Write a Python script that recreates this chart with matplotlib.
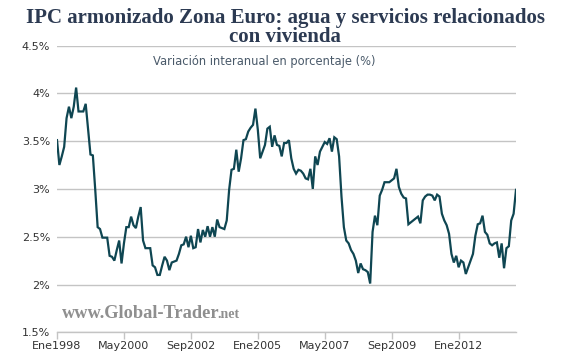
import matplotlib
matplotlib.use("Agg")
import matplotlib.pyplot as plt
from matplotlib.ticker import FuncFormatter

# ---- data (monthly, Ene 1998 .. Ene 2014) ----
start_year = 1998
values = [
    3.51, 3.25, 3.34, 3.44, 3.74, 3.86, 3.74, 3.86, 4.06, 3.81, 3.81, 3.81,
    3.89, 3.62, 3.36, 3.35, 2.99, 2.60, 2.58, 2.49, 2.49, 2.49, 2.30, 2.29,
    2.25, 2.36, 2.46, 2.22, 2.43, 2.60, 2.60, 2.71, 2.62, 2.59, 2.71, 2.81,
    2.46, 2.38, 2.38, 2.38, 2.20, 2.18, 2.10, 2.10, 2.20, 2.29, 2.25, 2.15,
    2.23, 2.24, 2.25, 2.32, 2.41, 2.42, 2.50, 2.39, 2.51, 2.38, 2.39, 2.58,
    2.44, 2.57, 2.50, 2.61, 2.50, 2.60, 2.50, 2.68, 2.60, 2.59, 2.58, 2.67,
    2.99, 3.20, 3.21, 3.41, 3.18, 3.32, 3.51, 3.52, 3.60, 3.64, 3.67, 3.84,
    3.62, 3.32, 3.39, 3.46, 3.63, 3.65, 3.44, 3.56, 3.46, 3.45, 3.34, 3.48,
    3.48, 3.51, 3.32, 3.21, 3.16, 3.20, 3.19, 3.16, 3.11, 3.10, 3.21, 3.00,
    3.34, 3.25, 3.39, 3.44, 3.49, 3.47, 3.53, 3.39, 3.54, 3.52, 3.34, 2.92,
    2.60, 2.46, 2.43, 2.36, 2.32, 2.25, 2.12, 2.22, 2.16, 2.15, 2.13, 2.01,
    2.55, 2.72, 2.62, 2.93, 2.99, 3.07, 3.07, 3.07, 3.09, 3.11, 3.21, 3.02,
    2.95, 2.91, 2.90, 2.63, 2.65, 2.67, 2.69, 2.71, 2.64, 2.88, 2.92, 2.94,
    2.94, 2.93, 2.88, 2.94, 2.92, 2.74, 2.67, 2.62, 2.53, 2.32, 2.23, 2.30,
    2.18, 2.25, 2.23, 2.11, 2.18, 2.25, 2.32, 2.51, 2.63, 2.64, 2.72, 2.55,
    2.52, 2.43, 2.41, 2.43, 2.44, 2.28, 2.43, 2.17, 2.38, 2.40, 2.67, 2.74,
    2.99,
]
tick_labels = ["Ene1998", "May2000", "Sep2002", "Ene2005", "May2007", "Sep2009", "Ene2012"]
y_ticks = [1.5, 2.0, 2.5, 3.0, 3.5, 4.0, 4.5]

title_lines = ["IPC armonizado Zona Euro: agua y servicios relacionados", "con vivienda"]
subtitle = "Variación interanual en porcentaje (%)"

meses = {"Ene": 0, "Feb": 1, "Mar": 2, "Abr": 3, "May": 4, "Jun": 5,
         "Jul": 6, "Ago": 7, "Sep": 8, "Oct": 9, "Nov": 10, "Dic": 11}
tick_pos = [(int(t[3:]) - start_year) * 12 + meses[t[:3]] for t in tick_labels]
x = list(range(len(values)))

fig = plt.figure(figsize=(5.65, 3.54), dpi=100)
ax = fig.add_axes([57 / 565, 1 - 332.3 / 354, (516 - 57) / 565, (332.3 - 45.5) / 354])

ax.plot(x, values, color="#0f4652", lw=1.6, solid_joinstyle="miter", zorder=3)

ax.set_xlim(0, len(values) - 1)
ax.set_ylim(1.5, 4.5)
ax.set_yticks(y_ticks)
ax.yaxis.set_major_formatter(FuncFormatter(lambda v, p: f"{v:g}%"))
ax.set_xticks(tick_pos)
ax.set_xticklabels(tick_labels)

ax.grid(axis="y", color="#c4c4c4", lw=1.0, zorder=0)
for s in ["top", "right", "left"]:
    ax.spines[s].set_visible(False)
ax.spines["bottom"].set_color("#c4c4c4")
ax.spines["bottom"].set_linewidth(1.0)
ax.tick_params(axis="y", length=0, pad=5, labelsize=8, labelcolor="#333333")
ax.tick_params(axis="x", length=5, width=1, color="#c4c4c4", pad=1,
               labelsize=8, labelcolor="#333333")

title_kw = dict(ha="center", va="baseline", fontsize=15, fontweight="bold",
                family="Liberation Serif", color="#2c3a52")
fig.text(0.505, 1 - 22.5 / 354, title_lines[0], **title_kw)
fig.text(0.505, 1 - 41.5 / 354, title_lines[1], **title_kw)
fig.text((153 + 375) / 2 / 565, 1 - 61 / 354, subtitle, ha="center", va="center",
         fontsize=8.3, color="#4a5a6a")

# watermark
wm = fig.text(62 / 565, 1 - 313 / 354, "www.Global-Trader", ha="left", va="center",
              fontsize=13.2, fontweight="bold", family="Liberation Serif", color="#8f8f8f")
fig.canvas.draw()
bb = wm.get_window_extent()
fig.text((bb.x1 - 2) / 565, 1 - 314.5 / 354, ".net", ha="left", va="center",
         fontsize=10, fontweight="bold", family="Liberation Serif", color="#8f8f8f")

fig.savefig("out.png", dpi=100)
